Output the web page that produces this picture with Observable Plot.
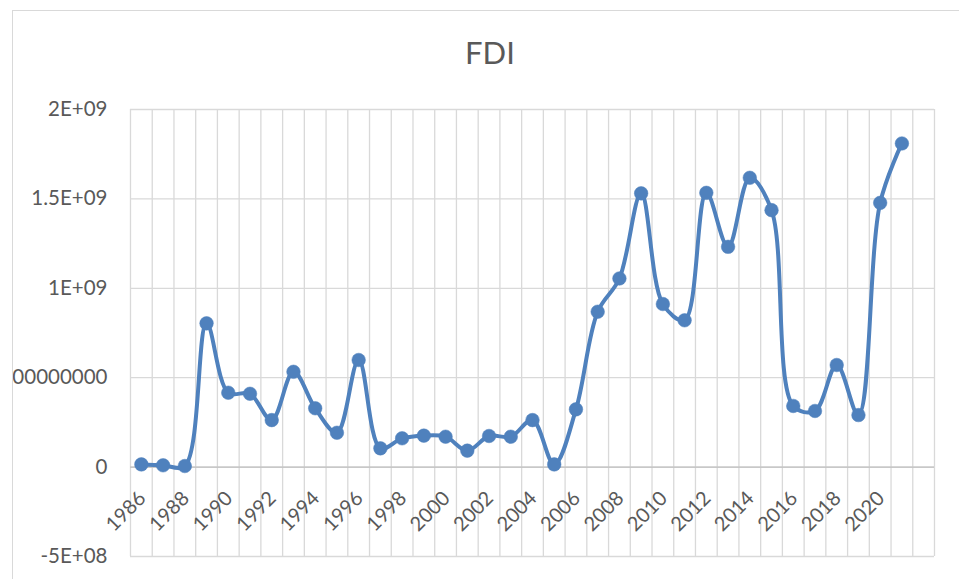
<!DOCTYPE html>
<html><head><meta charset="utf-8">
<script src="https://cdn.jsdelivr.net/npm/d3@7"></script>
<script src="https://cdn.jsdelivr.net/npm/@observablehq/plot@0.6"></script>
<style>
html,body{margin:0;padding:0;background:#fff;width:959px;height:579px;overflow:hidden;position:relative;}
#frame{position:absolute;left:12px;top:10px;width:960px;height:600px;border-left:1px solid #d9d9d9;border-top:1px solid #d9d9d9;overflow:hidden;background:#fff;}
#title{position:absolute;left:0;width:980px;top:37px;text-align:center;font-family:Lato,sans-serif;font-size:31px;color:#595959;line-height:1;}
</style></head><body>
<div id="frame"><div id="chart"></div></div>
<div id="title">FDI</div>
<script>
const years = [1986,1987,1988,1989,1990,1991,1992,1993,1994,1995,1996,1997,1998,1999,2000,2001,2002,2003,2004,2005,2006,2007,2008,2009,2010,2011,2012,2013,2014,2015,2016,2017,2018,2019,2020,2021];
const fdi = [15e6,10e6,6e6,804e6,416e6,410e6,263e6,533e6,329e6,192e6,599e6,105e6,161e6,176e6,170e6,92e6,174e6,170e6,263e6,15e6,323e6,869e6,1055e6,1531e6,912e6,821e6,1534e6,1232e6,1618e6,1437e6,342e6,314e6,571e6,291e6,1478e6,1810e6];
const yTicks = [-5e8, 0, 5e8, 1e9, 1.5e9, 2e9];
const yTickLabels = ["-5E+08","0","500000000","1E+09","1.5E+09","2E+09"];
const xLabelYears = [1986,1988,1990,1992,1994,1996,1998,2000,2002,2004,2006,2008,2010,2012,2014,2016,2018,2020];
const firstCategory = 1986, lastCategory = 2022;

const data = years.map((year, i) => ({year, value: fdi[i]}));
const boundaries = d3.range(firstCategory - 0.5, lastCategory + 1, 1);
const labelOf = new Map(yTicks.map((t, i) => [t, yTickLabels[i]]));
const blue = "#4f81bd";

const chart = Plot.plot({
  width: 947,
  height: 569,
  marginLeft: 117,
  marginRight: 26,
  marginTop: 98,
  marginBottom: 24,
  style: {fontFamily: "Lato, sans-serif", fontSize: "20px", color: "#595959", background: "#fff"},
  x: {domain: [firstCategory - 0.5, lastCategory + 0.5], axis: null},
  y: {domain: [-5e8, 2e9], axis: null},
  marks: [
    Plot.gridX(boundaries, {stroke: "#d9d9d9", strokeOpacity: 1, strokeWidth: 1.3}),
    Plot.gridY(yTicks, {stroke: "#d9d9d9", strokeOpacity: 1, strokeWidth: 1.3}),
    Plot.ruleY([0], {stroke: "#bfbfbf", strokeWidth: 1.3}),
    Plot.axisY(yTicks, {tickSize: 0, tickPadding: 23, label: null, tickFormat: d => labelOf.get(d), fill: "#595959", fontSize: 20.5}),
    Plot.text(xLabelYears, {x: d => d, y: () => 0, text: d => String(d), rotate: -45, textAnchor: "end", dy: 28, dx: 1, fill: "#595959", fontSize: 20}),
    Plot.line(data, {x: "year", y: "value", stroke: blue, strokeWidth: 4, curve: "catmull-rom"}),
    Plot.dot(data, {x: "year", y: "value", r: 6.8, fill: blue, stroke: blue, strokeWidth: 0.5})
  ]
});
document.getElementById("chart").appendChild(chart);
</script>
</body></html>
